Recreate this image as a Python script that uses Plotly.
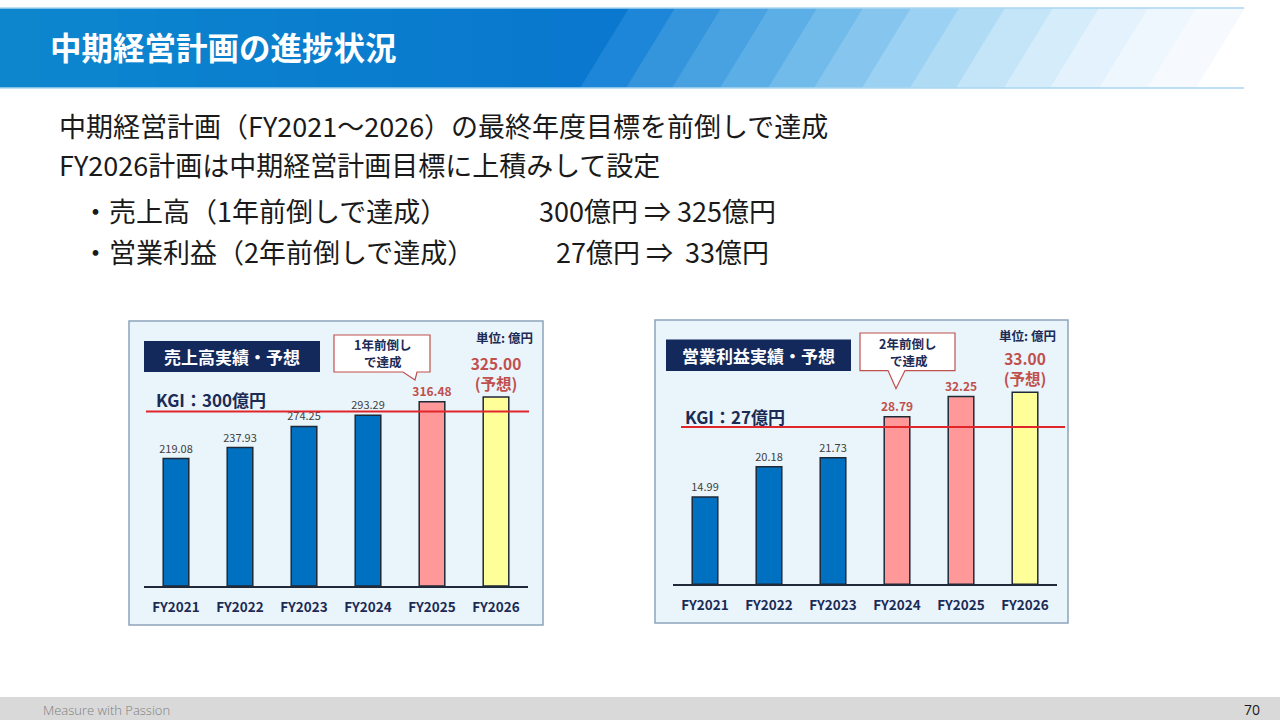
import plotly.graph_objects as go

W, H = 1280, 720
FONT = "Noto Sans CJK JP"
NAVY = "#1B2B55"
RED_TXT = "#C0504D"

# data
years = ["FY2021", "FY2022", "FY2023", "FY2024", "FY2025", "FY2026"]
sales = [219.08, 237.93, 274.25, 293.29, 316.48, 325.00]
profit = [14.99, 20.18, 21.73, 28.79, 32.25, 33.00]
sales_kind = ["actual", "actual", "actual", "actual", "early", "forecast"]
profit_kind = ["actual", "actual", "actual", "early", "early", "forecast"]
sales_kgi = 300
profit_kgi = 27

KIND_COLOR = {"actual": "#0070C0", "early": "#FF9999", "forecast": "#FFFF99"}
KIND_TXT = {"actual": "#404040", "early": RED_TXT, "forecast": RED_TXT}
KIND_SIZE = {"actual": 11, "early": 12, "forecast": 15.5}


def px(x):
    return x / W


def py(y):
    return 1 - y / H


def note(text, x, y, size, color, xanchor="center", family=FONT, weight=None):
    f = dict(family=family, size=size, color=color)
    if weight is not None:
        f["weight"] = weight
    return dict(text=text, x=px(x), y=py(y), xref="paper", yref="paper",
                xanchor=xanchor, yanchor="middle", showarrow=False, font=f)


def bar_labels(values, kinds):
    out = []
    for v, k in zip(values, kinds):
        s = f"{v:.2f}"
        if k == "forecast":
            s = f"<b>{s}</b><br><b>(予想)</b>"
        elif k == "early":
            s = f"<b>{s}</b>"
        out.append(s)
    return out


def bar_trace(values, kinds, xa, ya):
    return go.Bar(
        x=years, y=values, xaxis=xa, yaxis=ya,
        width=0.4,
        marker=dict(color=[KIND_COLOR[k] for k in kinds],
                    line=dict(color="#1E2A38", width=1.5)),
        text=bar_labels(values, kinds),
        textposition="outside",
        constraintext="none",
        cliponaxis=False,
        textfont=dict(family=FONT,
                      color=[KIND_TXT[k] for k in kinds],
                      size=[KIND_SIZE[k] for k in kinds]),
        hoverinfo="skip",
        showlegend=False,
    )


fig = go.Figure()
fig.add_trace(bar_trace(sales, sales_kind, "x", "y"))
fig.add_trace(bar_trace(profit, profit_kind, "x2", "y2"))

shapes = []
annotations = []

# header band
left_cols = [(13, 134, 206), (9, 120, 206)]
n = 16
for i in range(n):
    t = i / (n - 1)
    c = tuple(int(left_cols[0][j] + (left_cols[1][j] - left_cols[0][j]) * t) for j in range(3))
    x0 = 630 * i / n
    x1 = 630 * (i + 1) / n + 1
    shapes.append(dict(type="rect", xref="paper", yref="paper", x0=px(x0), x1=px(x1),
                       y0=py(88), y1=py(8), fillcolor="rgb(%d,%d,%d)" % c, line_width=0, layer="below"))
stripe_cols = ["#1E86D8", "#3494DC", "#48A1E0", "#5CAEE6", "#70BBEA", "#86C6EE", "#9BD1F2",
               "#B0DBF5", "#C4E5F8", "#D5EDFA", "#E3F2FC", "#EDF7FD", "#F6FAFE"]
top_edges = [629, 675, 721, 769, 817, 863, 911, 959, 1005, 1053, 1099, 1148, 1196, 1244]
for k, col in enumerate(stripe_cols):
    a, b = top_edges[k], top_edges[k + 1] + 1
    path = "M %f,%f L %f,%f L %f,%f L %f,%f Z" % (
        px(a - 49), py(88), px(b - 49), py(88), px(b), py(8), px(a), py(8))
    shapes.append(dict(type="path", xref="paper", yref="paper", path=path,
                       fillcolor=col, line_width=0, layer="below"))
for yy in (8, 88):
    shapes.append(dict(type="line", xref="paper", yref="paper", x0=0, x1=px(1244),
                       y0=py(yy), y1=py(yy), line=dict(color="#A9D6F0", width=1.5), layer="below"))

annotations.append(note("<b>中期経営計画の進捗状況</b>", 48, 46, 31.5, "white", xanchor="left"))

# body text
body = [
    ("中期経営計画（FY2021～2026）の最終年度目標を前倒しで達成", 57, 125),
    ("FY2026計画は中期経営計画目標に上積みして設定", 57, 165),
    ("・売上高（1年前倒しで達成）", 80, 210),
    ("300億円 ⇒ 325億円", 537, 210),
    ("・営業利益（2年前倒しで達成）", 80, 251),
    ("27億円 ⇒  33億円", 554, 251),
]
for txt, x, y in body:
    annotations.append(note(txt, x, y, 27, "#1A1A1A", xanchor="left"))

# chart panels
panels = [
    dict(box=(129, 321, 543, 625), title="売上高実績・予想", tbox=(144, 341, 320, 372),
         callout="M 334,335 L 430,335 L 430,372 L 417,372 L 415,380 L 403,372 L 334,372 Z",
         c1=("1年前倒し", 382, 344.5), c2=("で達成", 383, 361.5), unit=(504, 337.5),
         kgi=("KGI：300億円", 154, 399.5), red=(146, 529, "y", sales_kgi)),
    dict(box=(655, 320, 1068, 623), title="営業利益実績・予想", tbox=(666, 339.5, 851, 371),
         callout="M 860,333 L 955,333 L 955,370.6 L 905,370.6 L 896,388.5 L 888,370.6 L 860,370.6 Z",
         c1=("2年前倒し", 907, 343.5), c2=("で達成", 909, 360.5), unit=(1027.5, 335.5),
         kgi=("KGI：27億円", 683, 416.5), red=(681, 1065, "y2", profit_kgi)),
]
for p in panels:
    x0, y0, x1, y1 = p["box"]
    shapes.append(dict(type="rect", xref="paper", yref="paper", x0=px(x0), x1=px(x1), y0=py(y1), y1=py(y0),
                       fillcolor="#EAF4FB", line=dict(color="#8DA3BC", width=1.5), layer="below"))
    x0, y0, x1, y1 = p["tbox"]
    shapes.append(dict(type="rect", xref="paper", yref="paper", x0=px(x0), x1=px(x1), y0=py(y1), y1=py(y0),
                       fillcolor="#13295B", line_width=0, layer="below"))
    annotations.append(note("<b>%s</b>" % p["title"], (x0 + x1) / 2, (y0 + y1) / 2, 17, "white"))
    # callout bubble
    pts = p["callout"].replace("M ", "").replace(" Z", "").split(" L ")
    path = "M " + " L ".join("%f,%f" % (px(float(q.split(",")[0])), py(float(q.split(",")[1]))) for q in pts) + " Z"
    shapes.append(dict(type="path", xref="paper", yref="paper", path=path, fillcolor="white",
                       line=dict(color="#C0504D", width=1.2), layer="below"))
    for txt, cx, cy in (p["c1"], p["c2"]):
        annotations.append(note("<b>%s</b>" % txt, cx, cy, 12.5, NAVY))
    annotations.append(note("<b>単位: 億円</b>", p["unit"][0], p["unit"][1], 12.5, NAVY))
    txt, kx, ky = p["kgi"]
    annotations.append(note("<b>%s</b>" % txt, kx, ky, 17, NAVY, xanchor="left"))
    rx0, rx1, yref, kv = p["red"]
    shapes.append(dict(type="line", xref="paper", yref=yref, x0=px(rx0), x1=px(rx1), y0=kv, y1=kv,
                       line=dict(color="#E0262B", width=2)))

# footer
shapes.append(dict(type="rect", xref="paper", yref="paper", x0=0, x1=1, y0=0, y1=py(697),
                   fillcolor="#D9D9D9", line_width=0, layer="below"))
annotations.append(note("Measure with Passion", 41, 709.5, 13, "#7F7F7F", xanchor="left",
                        family="Open Sans", weight=300))
annotations.append(note("70", 1262, 709.5, 14, "#1A1A1A", xanchor="right", family="Open Sans"))

xa = dict(type="category", showline=True, linecolor="#1E2A38", linewidth=1.5, ticks="",
          ticklabelstandoff=8, showgrid=False, zeroline=False, fixedrange=True,
          tickfont=dict(family=FONT, size=13.5, color=NAVY, weight="bold"))
ya = dict(visible=False, showgrid=False, zeroline=False, fixedrange=True)

fig.update_layout(
    width=W, height=H,
    margin=dict(l=0, r=0, t=0, b=0),
    paper_bgcolor="white",
    plot_bgcolor="rgba(0,0,0,0)",
    bargap=0.6,
    xaxis=dict(xa, domain=[px(144), px(528)], anchor="y"),
    yaxis=dict(ya, domain=[py(586), py(380)], range=[0, 354]),
    xaxis2=dict(xa, domain=[px(673), px(1057)], anchor="y2"),
    yaxis2=dict(ya, domain=[py(584.2), py(380)], range=[0, 35.1]),
    shapes=shapes,
    annotations=annotations,
)

fig.write_html("out.html", config={"displayModeBar": False},
               post_script="document.body.style.margin='0';")
